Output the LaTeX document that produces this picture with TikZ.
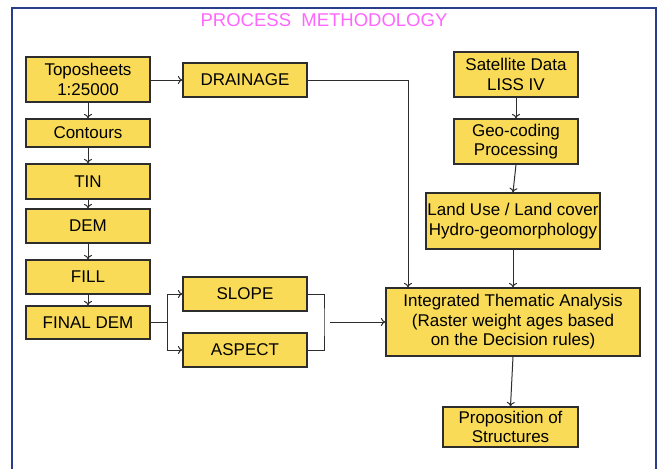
\documentclass[tikz,border=0pt]{standalone}
\usepackage{fontspec}
\setmainfont{Liberation Sans}
\usetikzlibrary{arrows.meta}
\definecolor{boxfill}{RGB}{249,219,87}
\definecolor{framecol}{RGB}{40,62,140}
\definecolor{titlecol}{RGB}{255,102,255}
\definecolor{linecol}{RGB}{45,45,45}
\begin{document}
\begin{tikzpicture}[x=1pt,y=-1pt,
  box/.style={draw=linecol, line width=1.2pt, fill=boxfill, inner sep=0pt, align=center,
    font=\fontsize{17}{19.5}\selectfont, text=black},
  conn/.style={draw=linecol, line width=1pt},
  arr/.style={conn, -{To[length=4.5pt,width=8pt]}}]
\useasboundingbox (0,0) rectangle (662,469);
\fill[white] (0,0) rectangle (662,469);
\begin{scope}
\clip (0,0) rectangle (662,469);
\draw[framecol, line width=1.8pt] (12,8) rectangle (656,490);
\end{scope}
\node[text=titlecol, font=\fontsize{18.5}{20}\selectfont] (title) at (324,20) {PROCESS\ \ METHODOLOGY};

\node[box, minimum width=124, minimum height=45] (topo) at (88,79.5) {Toposheets\\1:25000};
\node[box, minimum width=124, minimum height=34] (drain) at (245,80) {DRAINAGE};
\node[box, minimum width=124, minimum height=28] (cont) at (88,133) {Contours};
\node[box, minimum width=124, minimum height=35] (tin) at (88,181.5) {TIN};
\node[box, minimum width=124, minimum height=34] (dem) at (88,226) {DEM};
\node[box, minimum width=124, minimum height=34] (fill) at (88,277) {FILL};
\node[box, minimum width=124, minimum height=33] (fdem) at (88,322.5) {FINAL DEM};
\node[box, minimum width=124, minimum height=34] (slope) at (245,294) {SLOPE};
\node[box, minimum width=124, minimum height=34] (aspect) at (245,350) {ASPECT};
\node[box, minimum width=124, minimum height=45] (sat) at (516,74.5) {Satellite Data\\LISS IV};
\node[box, minimum width=124, minimum height=45] (geo) at (516,141.5) {Geo-coding\\Processing};
\node[box, minimum width=174, minimum height=56] (land) at (513,221) {Land Use / Land cover\\Hydro-geomorphology};
\node[box, minimum width=254, minimum height=68] (integ) at (513,322) {Integrated Thematic Analysis\\(Raster weight ages based\\on the Decision rules)};
\node[box, minimum width=135, minimum height=40] (prop) at (510.5,427) {Proposition of\\Structures};

\coordinate (dx) at (408,80);
\coordinate (br) at (167,322.5);
\coordinate (rb) at (324,322);
\coordinate (ms) at (330,322);

\draw[arr] (topo) -- (cont);
\draw[arr] (cont) -- (tin);
\draw[arr] (tin) -- (dem);
\draw[arr] (dem) -- (fill);
\draw[arr] (fill) -- (fdem);
\draw[arr] (topo.east |- drain.west) -- (drain.west);
\draw[arr] (drain.east) -- (dx) -- (dx |- integ.north);
\draw[conn] (fdem.east) -- (br);
\draw[arr] (br) |- (slope.west);
\draw[arr] (br) |- (aspect.west);
\draw[conn] (slope.east) -| (rb) |- (aspect.east);
\draw[arr] (ms) -- (integ.west);
\draw[arr] (sat) -- (geo);
\draw[arr] (geo.south) -- (land.north);
\draw[arr] (land) -- (integ);
\draw[arr] (integ.south) -- (prop.north);
\end{tikzpicture}
\end{document}
